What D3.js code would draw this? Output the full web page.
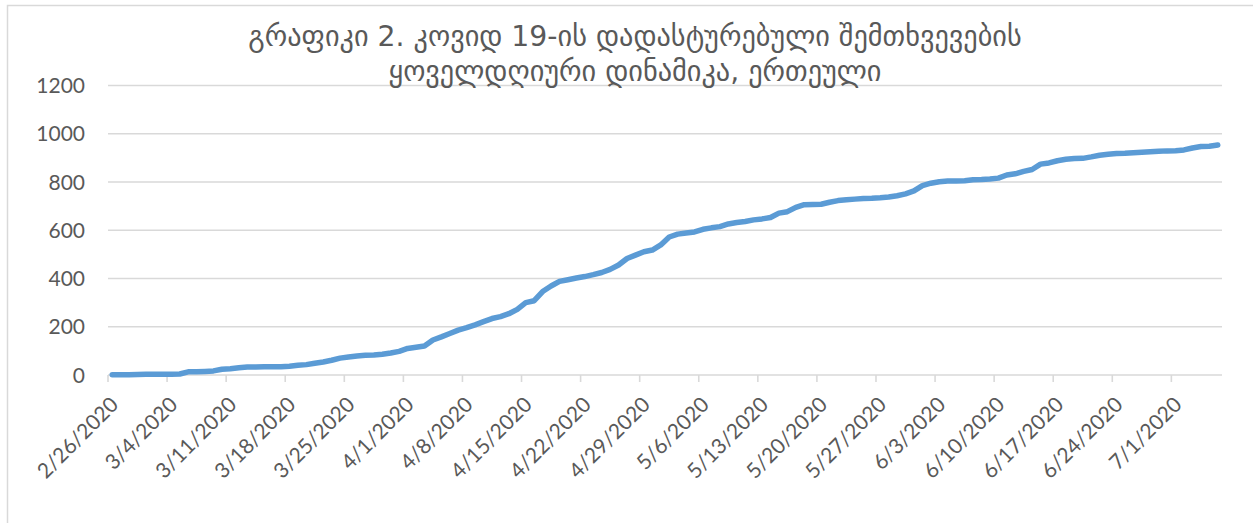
<!DOCTYPE html>
<html>
<head>
<meta charset="utf-8">
<script src="https://cdn.jsdelivr.net/npm/d3@7"></script>
<style>
  html, body { margin: 0; padding: 0; background: #fff; }
  svg { display: block; }
</style>
</head>
<body>
<svg id="chart" width="1253" height="523"></svg>
<script>
// ---- data ----
const titleLines = [
  "გრაფიკი 2. კოვიდ 19-ის დადასტურებული შემთხვევების",
  "ყოველდღიური დინამიკა, ერთეული"
];
const startDate = "2020-02-26";
const cases = [
  1, 1, 1, 2, 3, 3, 3, 3, 4, 13,
  13, 15, 17, 24, 26, 30, 33, 33, 34, 34,
  34, 36, 40, 43, 49, 54, 61, 70, 75, 79,
  82, 83, 86, 91, 98, 110, 115, 120, 145, 158,
  172, 186, 196, 208, 221, 234, 242, 254, 272, 300,
  308, 346, 369, 388, 395, 402, 408, 416, 425, 438,
  456, 483, 497, 511, 518, 539, 572, 584, 589, 593,
  604, 610, 615, 626, 632, 636, 643, 647, 653, 671,
  677, 695, 706, 707, 708, 716, 723, 726, 729, 732,
  733, 735, 738, 743, 751, 763, 785, 795, 801, 804,
  804, 805, 809, 810, 812, 816, 829, 834, 844, 852,
  874, 879, 888, 894, 897, 898, 904, 911, 915, 918,
  919, 921, 923, 925, 927, 929, 930, 933, 941, 947,
  948, 953
];
const yTicks = [0, 200, 400, 600, 800, 1000, 1200];
const tickEvery = 7;

(function () {
  // ---- categories (one per day) ----
  const parse = d3.timeParse("%Y-%m-%d");
  const fmt = d => (d.getMonth() + 1) + "/" + d.getDate() + "/" + d.getFullYear();
  const categories = cases.map((_, i) => fmt(d3.timeDay.offset(parse(startDate), i)));

  // ---- layout ----
  const svg = d3.select("#chart");
  const pLeft = 108, pRight = 1222, pTop = 85.5, pBottom = 375;
  const textColor = "#595959";
  const gridColor = "#d9d9d9";

  svg.append("rect")
    .attr("x", 7.5).attr("y", 5.5).attr("width", 1300).attr("height", 600)
    .attr("fill", "none").attr("stroke", gridColor).attr("stroke-width", 1.5);

  const x = d3.scaleBand().domain(d3.range(cases.length)).range([pLeft, pRight]).padding(0);
  const y = d3.scaleLinear().domain([0, 1200]).range([pBottom, pTop]);

  svg.append("g").selectAll("line").data(yTicks.filter(t => t > 0)).join("line")
    .attr("x1", pLeft).attr("x2", pRight)
    .attr("y1", d => y(d)).attr("y2", d => y(d))
    .attr("stroke", gridColor).attr("stroke-width", 1.6);

  svg.append("g").selectAll("text").data(yTicks).join("text")
    .attr("x", 85).attr("y", d => y(d))
    .attr("dy", "0.36em")
    .attr("text-anchor", "end")
    .attr("font-family", "Lato, 'Open Sans', sans-serif")
    .attr("font-size", 21)
    .attr("fill", textColor)
    .text(d => d);

  svg.append("line")
    .attr("x1", pLeft).attr("x2", pRight).attr("y1", y(0)).attr("y2", y(0))
    .attr("stroke", gridColor).attr("stroke-width", 1.6);

  const tickIdx = d3.range(0, cases.length, tickEvery);
  svg.append("g").selectAll("line").data(tickIdx).join("line")
    .attr("x1", d => x(d)).attr("x2", d => x(d))
    .attr("y1", y(0)).attr("y2", y(0) + 7)
    .attr("stroke", gridColor).attr("stroke-width", 1.6);

  svg.append("g").selectAll("text").data(tickIdx).join("text")
    .attr("transform", d => `translate(${x(d) + x.bandwidth() / 2 + 7.5},406) rotate(-45)`)
    .attr("text-anchor", "end")
    .attr("font-family", "Lato, 'Open Sans', sans-serif")
    .attr("font-size", 21)
    .attr("fill", textColor)
    .text(d => categories[d]);

  const line = d3.line()
    .x((d, i) => x(i) + x.bandwidth() / 2)
    .y(d => y(d));
  svg.append("path")
    .datum(cases)
    .attr("d", line)
    .attr("fill", "none")
    .attr("stroke", "#5b9bd5")
    .attr("stroke-width", 5.5)
    .attr("stroke-linejoin", "round")
    .attr("stroke-linecap", "round");

  const t1 = svg.append("text")
    .attr("x", 635).attr("y", 46)
    .attr("text-anchor", "middle")
    .attr("font-family", "'DejaVu Sans', sans-serif")
    .attr("font-size", 26)
    .attr("fill", textColor)
    .text(titleLines[0]);
  const t2 = svg.append("text")
    .attr("x", 635).attr("y", 81)
    .attr("text-anchor", "middle")
    .attr("font-family", "'DejaVu Sans', sans-serif")
    .attr("font-size", 26)
    .attr("fill", textColor)
    .text(titleLines[1]);
  const w1 = t1.node().getComputedTextLength();
  if (w1 > 0) {
    const fs = 26 * 774 / w1;
    t1.attr("font-size", fs);
    t2.attr("font-size", fs);
  }
})();
</script>
</body>
</html>
